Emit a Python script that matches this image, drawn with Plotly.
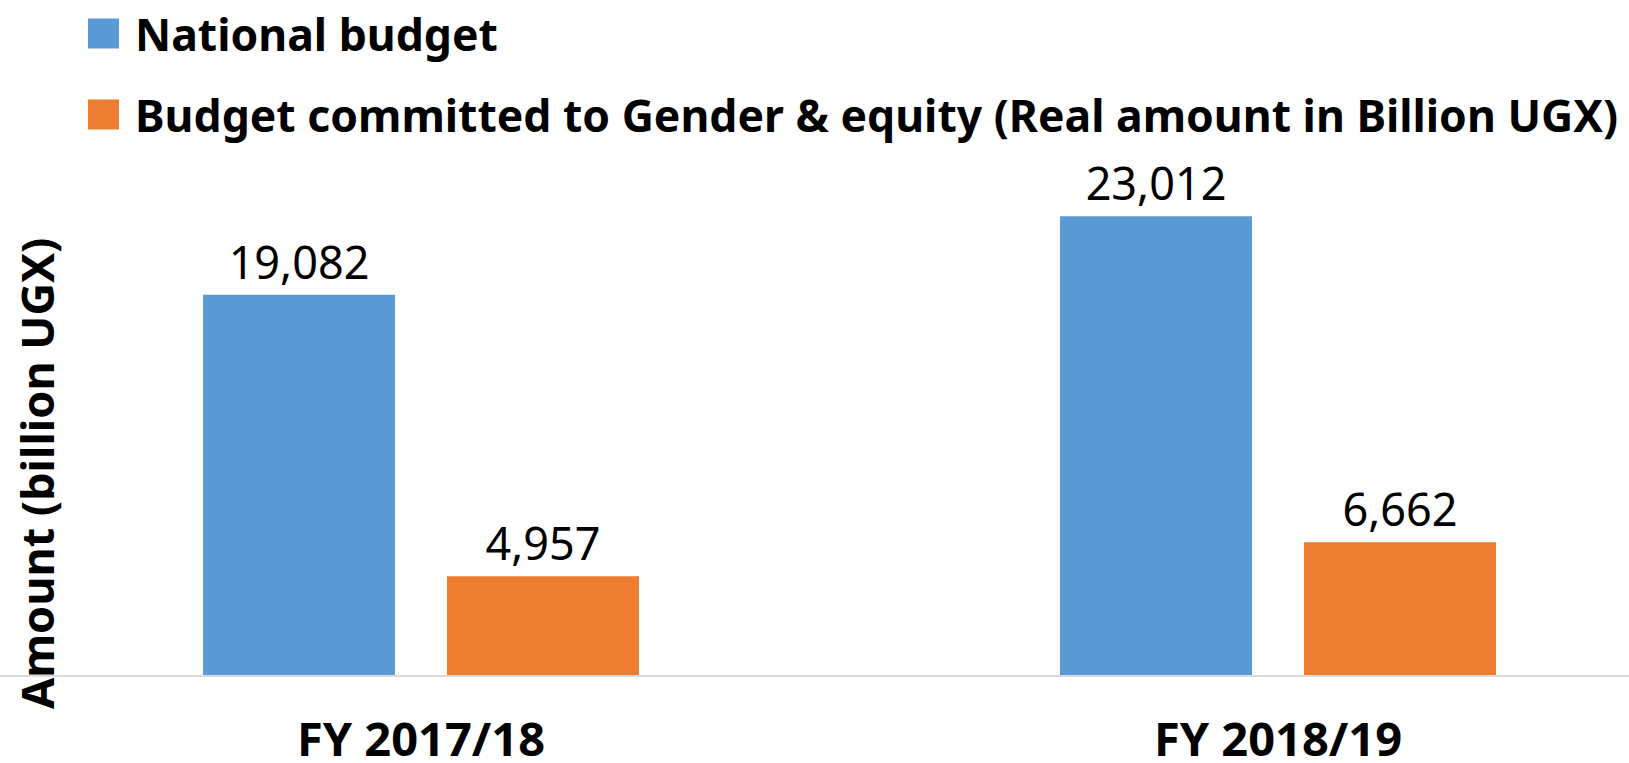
import plotly.graph_objects as go

categories = ["FY 2017/18", "FY 2018/19"]
series_names = ["National budget",
                "Budget committed to Gender & equity (Real amount in Billion UGX)"]
national_budget = [19082, 23012]
gender_equity = [4957, 6662]
series_values = [national_budget, gender_equity]
colors = ["#5B9BD5", "#ED7D31"]

W, H = 1629, 763
top_px, base_px = 150, 675
plot_h = base_px - top_px
px_per_unit = 0.01993
ymax = plot_h / px_per_unit

fig = go.Figure()
for name, vals, col in zip(series_names, series_values, colors):
    fig.add_trace(go.Bar(
        x=categories, y=vals, name=name,
        marker=dict(color=col, line=dict(width=16, color="rgba(0,0,0,0)")),
        text=[f"{v:,}" for v in vals], textposition="outside", cliponaxis=False,
        textfont=dict(family="Noto Sans", size=45, color="black"),
        showlegend=False,
    ))

# legend drawn manually with large squares
leg_y = [33.5, 114.5]
for name, col, yc in zip(series_names, colors, leg_y):
    fig.add_shape(type="rect", xref="paper", yref="paper",
                  x0=88 / W, x1=119 / W,
                  y0=(base_px - (yc - 15)) / plot_h, y1=(base_px - (yc + 15)) / plot_h,
                  fillcolor=col, line=dict(width=0))
    fig.add_annotation(text=f"<b>{name}</b>", xref="paper", yref="paper",
                       x=133 / W, y=(base_px - yc) / plot_h, xanchor="left", yanchor="middle",
                       showarrow=False, font=dict(family="Noto Sans", size=44.5, color="black"))

fig.add_annotation(text="<b>Amount (billion UGX)</b>", xref="paper", yref="paper",
                   x=36 / W, y=(base_px - 474) / plot_h, textangle=-90,
                   xanchor="center", yanchor="middle", showarrow=False,
                   font=dict(family="Noto Sans", size=45, color="black"))

x0 = -421 / 857
x1 = x0 + W / 857
fig.update_layout(
    width=W, height=H,
    margin=dict(l=0, r=0, t=top_px, b=H - base_px, autoexpand=False),
    paper_bgcolor="white", plot_bgcolor="white",
    barmode="group", bargap=0.4306, bargroupgap=0.2131,
    xaxis=dict(range=[x0, x1], showline=True, linecolor="#d9d9d9", linewidth=2,
               ticks="", tickfont=dict(family="Noto Sans", size=47, color="black"),
               ticklabelstandoff=23, showgrid=False, zeroline=False, automargin=False,
               tickvals=categories, ticktext=[f"<b>{c}</b>" for c in categories]),
    yaxis=dict(range=[0, ymax], visible=False, showgrid=False, zeroline=False),
    font=dict(family="Noto Sans"),
)
fig.write_html("out.html")
